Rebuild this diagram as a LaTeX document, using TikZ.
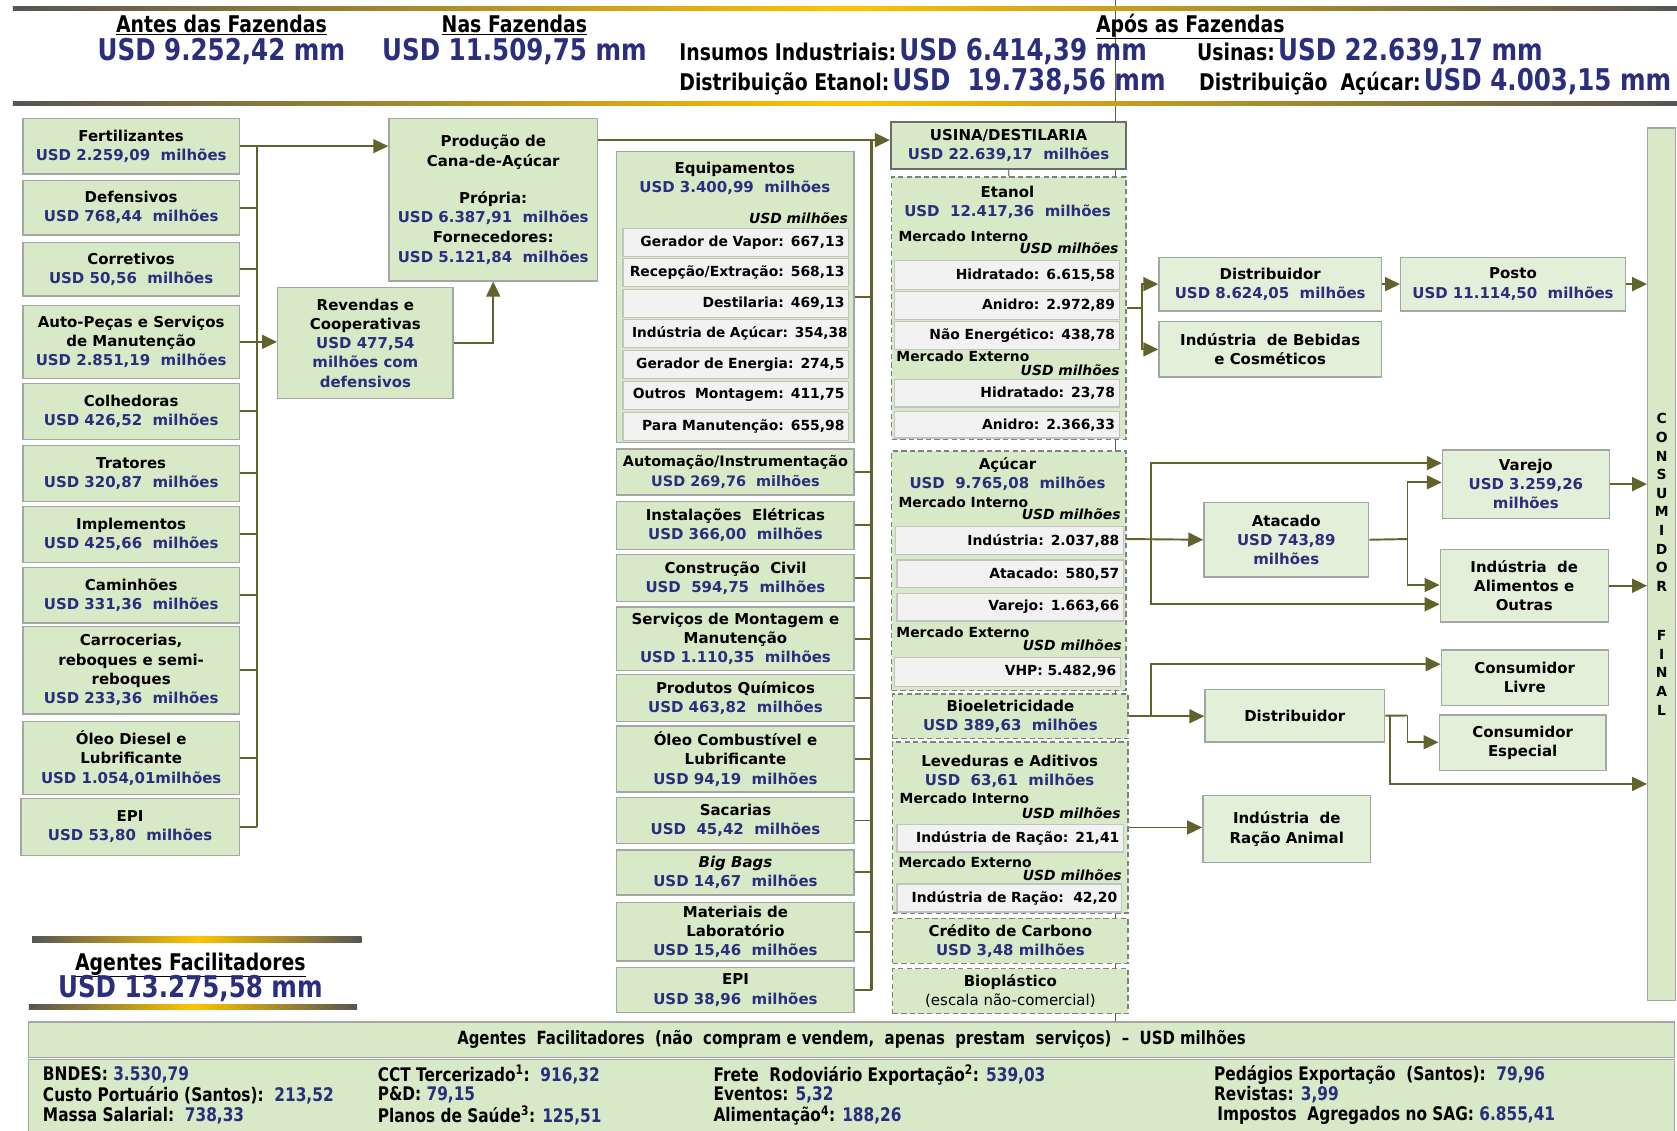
\documentclass[tikz,border=0pt]{standalone}
\usepackage{fontspec}
\setmainfont{DejaVu Sans}
\newfontfamily\condf[FakeStretch=0.82]{DejaVu Sans}
\usetikzlibrary{arrows.meta}
\definecolor{navy}{RGB}{43,45,125}
\definecolor{olive}{RGB}{98,98,45}
\definecolor{boxfill}{RGB}{216,233,200}
\definecolor{boxfillL}{RGB}{227,240,217}
\definecolor{boxline}{RGB}{165,165,165}
\definecolor{subfill}{RGB}{242,242,242}
\definecolor{subline}{RGB}{195,195,195}
\definecolor{hgray}{RGB}{85,85,85}
\definecolor{hgold}{RGB}{255,195,0}
\newcommand\nv[1]{\textcolor{navy}{#1}}
\newcommand\bfont{\bfseries\fontsize{14}{18}\selectfont}
\newcommand\sfont{\bfseries\fontsize{13}{16}\selectfont}
\newcommand\hlbl{\condf\bfseries\fontsize{21.5}{24}\selectfont}
\newcommand\hnumf{\color{navy}\fontsize{28}{30}\selectfont}
\tikzset{
  box/.style={draw=boxline, fill=boxfill, line width=1.3pt, inner sep=0pt, align=center, font=\bfont, anchor=north west},
  boxL/.style={box, fill=boxfillL},
  dbox/.style={box, draw=gray, dash pattern=on 5pt off 3pt, line width=1.4pt},
  sub/.style={draw=subline, fill=subfill, line width=1.2pt, inner xsep=4pt, inner ysep=0pt, align=right, font=\sfont, anchor=north west},
  conn/.style={draw=olive, line width=1.8pt},
  arr/.style={conn, -{Triangle[length=14pt,width=13pt]}},
  lbl/.style={font=\sfont, anchor=west, inner sep=0pt},
  usdm/.style={font=\sfont\itshape, anchor=east, inner sep=0pt},
  ttl/.style={font=\bfont, inner sep=0pt, align=center},
  hdr/.style={font=\hlbl, inner sep=0pt, anchor=base},
  hnum/.style={font=\condf\bfseries\fontsize{28}{30}\selectfont, text=navy, inner sep=0pt, anchor=base},
  btxt/.style={font=\condf\bfseries\fontsize{17.5}{19}\selectfont, anchor=west, inner sep=0pt},
  hshade/.style={left color=hgray, right color=hgray, middle color=hgold}
}
\begin{document}
\begin{tikzpicture}[x=1pt,y=-1pt]
\useasboundingbox (0,0) rectangle (1568,1057);
\clip (0,0) rectangle (1568,1057);
\fill[white] (0,0) rectangle (1568,1057);

% vertical guide line
\coordinate (vt) at (1043,0);
\coordinate (vb) at (1043,955);
\draw[olive, line width=1.2pt] (vt) -- (vb);

% header
\shade[hshade] (12,6) rectangle (1568,10);
\shade[hshade] (12,95) rectangle (1568,99);
\node[hdr] (h1) at (207,30) {\underline{Antes das Fazendas}};
\node[hnum] (h1v) at (207,57) {USD 9.252,42 mm};
\node[hdr] (h2) at (481,30) {\underline{Nas Fazendas}};
\node[hnum] (h2v) at (481,57) {USD 11.509,75 mm};
\node[hdr] (h3) at (1113,30) {\underline{Após as Fazendas}};
\node[anchor=base west, inner sep=0pt] (h4) at (635,57) {\hlbl Insumos Industriais:\hspace{3pt}\hnumf USD 6.414,39 mm};
\node[anchor=base west, inner sep=0pt] (h5) at (635,85) {\hlbl Distribuição Etanol:\hspace{3pt}\hnumf USD~~19.738,56 mm};
\node[anchor=base west, inner sep=0pt] (h6) at (1119,57) {\hlbl Usinas:\hspace{3pt}\hnumf USD 22.639,17 mm};
\node[anchor=base west, inner sep=0pt] (h7) at (1121,85) {\hlbl Distribuição~~Açúcar:\hspace{3pt}\hnumf USD 4.003,15 mm};

% left column
\node[box, minimum width=202pt, minimum height=52pt] (fert) at (21,110) {Fertilizantes\\\nv{USD 2.259,09~~milhões}};
\node[box, minimum width=202pt, minimum height=51pt] (def) at (21,168) {Defensivos\\\nv{USD 768,44~~milhões}};
\node[box, minimum width=202pt, minimum height=50pt] (corr) at (21,226) {Corretivos\\\nv{USD 50,56~~milhões}};
\node[box, minimum width=202pt, minimum height=68pt] (auto) at (21,285) {Auto-Peças e Serviços\\de Manutenção\\\nv{USD 2.851,19~~milhões}};
\node[box, minimum width=202pt, minimum height=52pt] (colh) at (21,358) {Colhedoras\\\nv{USD 426,52~~milhões}};
\node[box, minimum width=202pt, minimum height=52pt] (trat) at (21,416) {Tratores\\\nv{USD 320,87~~milhões}};
\node[box, minimum width=202pt, minimum height=52pt] (impl) at (21,473) {Implementos\\\nv{USD 425,66~~milhões}};
\node[box, minimum width=202pt, minimum height=52pt] (cam) at (21,530) {Caminhões\\\nv{USD 331,36~~milhões}};
\node[box, minimum width=202pt, minimum height=82pt] (carr) at (21,585) {Carrocerias,\\reboques e semi-\\reboques\\\nv{USD 233,36~~milhões}};
\node[box, minimum width=202pt, minimum height=68pt] (oleo) at (21,674) {Óleo Diesel e\\Lubrificante\\\nv{USD 1.054,01milhões}};
\node[box, minimum width=204pt, minimum height=53pt] (epi) at (19,746) {EPI\\\nv{USD 53,80~~milhões}};

\node[box, minimum width=195pt, minimum height=152pt, font=\bfseries\fontsize{14}{18.5}\selectfont] (prod) at (363,110) {Produção de\\Cana-de-Açúcar\\[16pt]Própria:\\\nv{USD 6.387,91~~milhões}\\Fornecedores:\\\nv{USD 5.121,84~~milhões}};
\node[box, minimum width=164pt, minimum height=104pt] (rev) at (259,268) {Revendas e\\Cooperativas\\\nv{USD 477,54}\\\nv{milhões com}\\\nv{defensivos}};

% middle column
\node[box, minimum width=222pt, minimum height=272pt] (eq) at (576,141) {};
\node[ttl] (eqt) at (687,167) {Equipamentos\\\nv{USD 3.400,99~~milhões}};
\node[usdm] (equ) at (793,204) {USD milhões};
\node[sub, text width=203pt, minimum height=26pt] (e1) at (582,213) {Gerador de Vapor: 667,13};
\node[sub, text width=203pt, minimum height=26pt] (e2) at (582,241) {Recepção/Extração: 568,13};
\node[sub, text width=203pt, minimum height=26pt] (e3) at (582,270) {Destilaria: 469,13};
\node[sub, text width=209pt, inner xsep=1pt, minimum height=26pt, font=\bfseries\fontsize{12.8}{16}\selectfont] (e4) at (582,298) {Indústria de Açúcar: 354,38};
\node[sub, text width=203pt, minimum height=26pt] (e5) at (582,327) {Gerador de Energia: 274,5};
\node[sub, text width=203pt, minimum height=26pt] (e6) at (582,356) {Outros~~Montagem: 411,75};
\node[sub, text width=203pt, minimum height=26pt] (e7) at (582,385) {Para Manutenção: 655,98};

\node[box, minimum width=222pt, minimum height=43pt, font=\bfseries\fontsize{13.5}{18}\selectfont] (auto2) at (576,419) {Automação/Instrumentação\\\nv{USD 269,76~~milhões}};
\node[box, minimum width=222pt, minimum height=45pt] (inst) at (576,468) {Instalações~~Elétricas\\\nv{USD 366,00~~milhões}};
\node[box, minimum width=222pt, minimum height=44pt] (cc) at (576,518) {Construção~~Civil\\\nv{USD~~594,75~~milhões}};
\node[box, minimum width=222pt, minimum height=59pt] (serv) at (576,567) {Serviços de Montagem e\\Manutenção\\\nv{USD 1.110,35~~milhões}};
\node[box, minimum width=222pt, minimum height=44pt] (quim) at (576,630) {Produtos Químicos\\\nv{USD 463,82~~milhões}};
\node[box, minimum width=222pt, minimum height=62pt] (oleo2) at (576,678) {Óleo Combustível e\\Lubrificante\\\nv{USD 94,19~~milhões}};
\node[box, minimum width=222pt, minimum height=43pt] (sac) at (576,745) {Sacarias\\\nv{USD~~45,42~~milhões}};
\node[box, minimum width=222pt, minimum height=42pt] (bb) at (576,794) {\textit{Big Bags}\\\nv{USD 14,67~~milhões}};
\node[box, minimum width=222pt, minimum height=55pt] (mat) at (576,843) {Materiais de\\Laboratório\\\nv{USD 15,46~~milhões}};
\node[box, minimum width=222pt, minimum height=42pt] (epi2) at (576,904) {EPI\\\nv{USD 38,96~~milhões}};

% usina column
\node[box, draw=gray!85!black, line width=2pt, minimum width=220pt, minimum height=44pt] (usina) at (832,113) {USINA/DESTILARIA\\\nv{USD 22.639,17~~milhões}};

\node[dbox, minimum width=219pt, minimum height=245pt] (etanol) at (833,165) {};
\node[ttl] (ett) at (942,189) {Etanol\\\nv{USD~~12.417,36~~milhões}};
\node[lbl] (etmi) at (840,221) {Mercado Interno};
\node[usdm] (etu1) at (1046,232) {USD milhões};
\node[sub, text width=202pt, minimum height=27pt] (t1) at (836,243) {Hidratado: 6.615,58};
\node[sub, text width=202pt, minimum height=26pt] (t2) at (836,272) {Anidro: 2.972,89};
\node[sub, text width=202pt, minimum height=26pt] (t3) at (836,300) {Não Energético: 438,78};
\node[lbl] (etme) at (838,333) {Mercado Externo};
\node[usdm] (etu2) at (1047,346) {USD milhões};
\node[sub, text width=202pt, minimum height=26pt] (t4) at (836,354) {Hidratado: 23,78};
\node[sub, text width=202pt, minimum height=25pt] (t5) at (836,384) {Anidro: 2.366,33};

\node[dbox, minimum width=219pt, minimum height=224pt] (acucar) at (833,421) {};
\node[ttl] (act) at (942,443) {Açúcar\\\nv{USD~~9.765,08~~milhões}};
\node[lbl] (acmi) at (840,470) {Mercado Interno};
\node[usdm] (acu1) at (1048,481) {USD milhões};
\node[sub, text width=205pt, minimum height=26pt] (c1) at (837,492) {Indústria: 2.037,88};
\node[sub, text width=204pt, minimum height=26pt] (c2) at (838,523) {Atacado: 580,57};
\node[sub, text width=204pt, minimum height=26pt] (c3) at (838,554) {Varejo: 1.663,66};
\node[lbl] (acme) at (838,591) {Mercado Externo};
\node[usdm] (acu2) at (1049,603) {USD milhões};
\node[sub, text width=203pt, minimum height=27pt] (c4) at (836,614) {VHP: 5.482,96};

\node[dbox, minimum width=220pt, minimum height=42pt] (bio) at (834,648) {Bioeletricidade\\\nv{USD 389,63~~milhões}};

\node[dbox, minimum width=220pt, minimum height=160pt] (lev) at (834,693) {};
\node[ttl] (levt) at (944,721) {Leveduras e Aditivos\\\nv{USD~~63,61~~milhões}};
\node[lbl] (levmi) at (841,746) {Mercado Interno};
\node[usdm] (levu1) at (1048,760) {USD milhões};
\node[sub, text width=204pt, minimum height=26pt] (l1) at (838,770) {Indústria de Ração: 21,41};
\node[lbl] (levme) at (840,806) {Mercado Externo};
\node[usdm] (levu2) at (1049,818) {USD milhões};
\node[sub, text width=202pt, minimum height=26pt] (l2) at (838,826) {Indústria de Ração:~~42,20};

\node[dbox, minimum width=220pt, minimum height=42pt] (cred) at (834,858) {Crédito de Carbono\\\nv{USD 3,48~milhões}};
\node[dbox, minimum width=220pt, minimum height=42pt] (biop) at (834,905) {Bioplástico\\\mdseries (escala não-comercial)};

% right side
\node[boxL, minimum width=208pt, minimum height=50pt] (dist1) at (1083,240) {Distribuidor\\\nv{USD 8.624,05~~milhões}};
\node[boxL, minimum width=208pt, minimum height=52pt] (beb) at (1083,300) {Indústria~~de Bebidas\\e Cosméticos};
\node[boxL, minimum width=210pt, minimum height=50pt] (posto) at (1309,240) {Posto\\\nv{USD 11.114,50~~milhões}};
\node[boxL, minimum width=154pt, minimum height=70pt] (atac) at (1125,469) {Atacado\\\nv{USD 743,89}\\\nv{milhões}};
\node[boxL, minimum width=156pt, minimum height=64pt] (varejo) at (1348,420) {Varejo\\\nv{USD 3.259,26}\\\nv{milhões}};
\node[boxL, minimum width=157pt, minimum height=68pt] (alim) at (1346,513) {Indústria~~de\\Alimentos e\\Outras};
\node[boxL, minimum width=156pt, minimum height=52pt] (livre) at (1347,607) {Consumidor\\Livre};
\node[boxL, minimum width=156pt, minimum height=52pt] (esp) at (1345,668) {Consumidor\\Especial};
\node[boxL, minimum width=168pt, minimum height=49pt] (dist2) at (1126,644) {Distribuidor};
\node[boxL, minimum width=157pt, minimum height=63pt] (racao) at (1124,743) {Indústria~~de\\Ração Animal};
\node[box, minimum width=26pt, minimum height=816pt, font=\bfseries\fontsize{13}{17.4}\selectfont] (consf) at (1540,119) {C\\O\\N\\S\\U\\M\\I\\D\\O\\R\\[28.6pt]F\\I\\N\\A\\L};

% bottom
\node[box, minimum width=1539pt, minimum height=33pt, font=\condf\bfseries\fontsize{17}{18}\selectfont] (agh) at (26,955) {Agentes~ Facilitadores~ (não~ compram e vendem,~ apenas~ prestam~ serviços)~ –~ USD milhões};
\node[box, minimum width=1539pt, minimum height=80pt] (agb) at (26,990) {};
\node[btxt] (b11) at (40,1005) {BNDES: \nv{3.530,79}};
\node[btxt] (b12) at (40,1024) {Custo Portuário (Santos):~~\nv{213,52}};
\node[btxt] (b13) at (40,1043) {Massa Salarial:~~\nv{738,33}};
\node[btxt] (b21) at (353,1005) {CCT Tercerizado\textsuperscript{1}:~~\nv{916,32}};
\node[btxt] (b22) at (353,1024) {P\&D: \nv{79,15}};
\node[btxt] (b23) at (353,1043) {Planos de Saúde\textsuperscript{3}: \nv{125,51}};
\node[btxt] (b31) at (667,1005) {Frete~~Rodoviário Exportação\textsuperscript{2}: \nv{539,03}};
\node[btxt] (b32) at (667,1024) {Eventos: \nv{5,32}};
\node[btxt] (b33) at (667,1043) {Alimentação\textsuperscript{4}: \nv{188,26}};
\node[btxt] (b41) at (1135,1005) {Pedágios Exportação~~(Santos):~~\nv{79,96}};
\node[btxt] (b42) at (1135,1024) {Revistas: \nv{3,99}};
\node[btxt] (b43) at (1138,1043) {Impostos~~Agregados no SAG: \nv{6.855,41}};

% bottom-left summary
\shade[hshade] (30,876) rectangle (338,881);
\node[hdr] (aft) at (178,907) {\underline{Agentes Facilitadores}};
\node[hnum] (afv) at (178,933) {USD 13.275,58 mm};
\shade[hshade] (27,939) rectangle (334,944);

% connectors left
\coordinate (bus) at (240,0);
\draw[arr] (fert.east) -- (prod.west |- fert.east);
\draw[conn] (fert.east -| bus) -- (epi.east -| bus);
\foreach \n in {def,corr,auto,colh,trat,impl,cam,carr,oleo,epi}
  \draw[conn] (\n.east) -- (\n.east -| bus);
\draw[arr] (auto.east -| bus) -- (rev.west |- auto.east);
\draw[arr] (rev.east) -| (prod.south);

% production to usina and equipment bus
\coordinate (pj) at (815,131);
\draw[arr] (prod.east |- pj) -- (usina.west |- pj);
\draw[conn, line width=3pt] (pj) -- (pj |- epi2.east);
\foreach \n in {eq,auto2,inst,cc,serv,quim,oleo2,sac,bb,mat,epi2}
  \draw[conn] (\n.east) -- (\n.east -| pj);
\draw[gray, line width=1.2pt] (usina.south) -- (etanol.north);

% etanol
\coordinate (j1) at (1068,288);
\draw[conn] (etanol.east |- j1) -- (j1);
\draw[arr] (j1) |- (dist1.west);
\draw[arr] (j1) |- (beb.west);
\draw[arr] (dist1.east) -- (posto.west);
\draw[arr] (posto.east) -- (posto.east -| consf.west);

% acucar
\coordinate (j2) at (1076,504);
\coordinate (a1) at (1076,433);
\coordinate (a2) at (1076,565);
\draw[arr] (acucar.east |- j2) -- (atac.west);
\draw[arr] (j2) -- (a1) -- (varejo.west |- a1);
\draw[arr] (j2) -- (a2) -- (alim.west |- a2);
\coordinate (j3) at (1316,504);
\coordinate (a3) at (1316,451);
\coordinate (a4) at (1316,547);
\draw[conn] (atac.east) -- (j3);
\draw[arr] (j3) -- (a3) -- (varejo.west |- a3);
\draw[arr] (j3) -- (a4) -- (alim.west |- a4);
\draw[arr] (varejo.east) -- (varejo.east -| consf.west);
\draw[arr] (alim.east) -- (alim.east -| consf.west);

% bioeletricidade
\coordinate (j4) at (1076,669);
\coordinate (a5) at (1076,621);
\draw[arr] (bio.east) -- (dist2.west |- bio.east);
\draw[arr] (j4) -- (a5) -- (livre.west |- a5);
\coordinate (j5) at (1300,669);
\coordinate (a6) at (1300,733);
\coordinate (j6) at (1316,669);
\coordinate (a7) at (1316,694);
\draw[conn] (dist2.east) -- (j6);
\draw[arr] (j6) -- (a7) -- (esp.west |- a7);
\draw[arr] (j5) -- (a6) -- (consf.west |- a6);

% leveduras
\draw[arr] (lev.east) -- (racao.west |- lev.east);
\end{tikzpicture}
\end{document}
